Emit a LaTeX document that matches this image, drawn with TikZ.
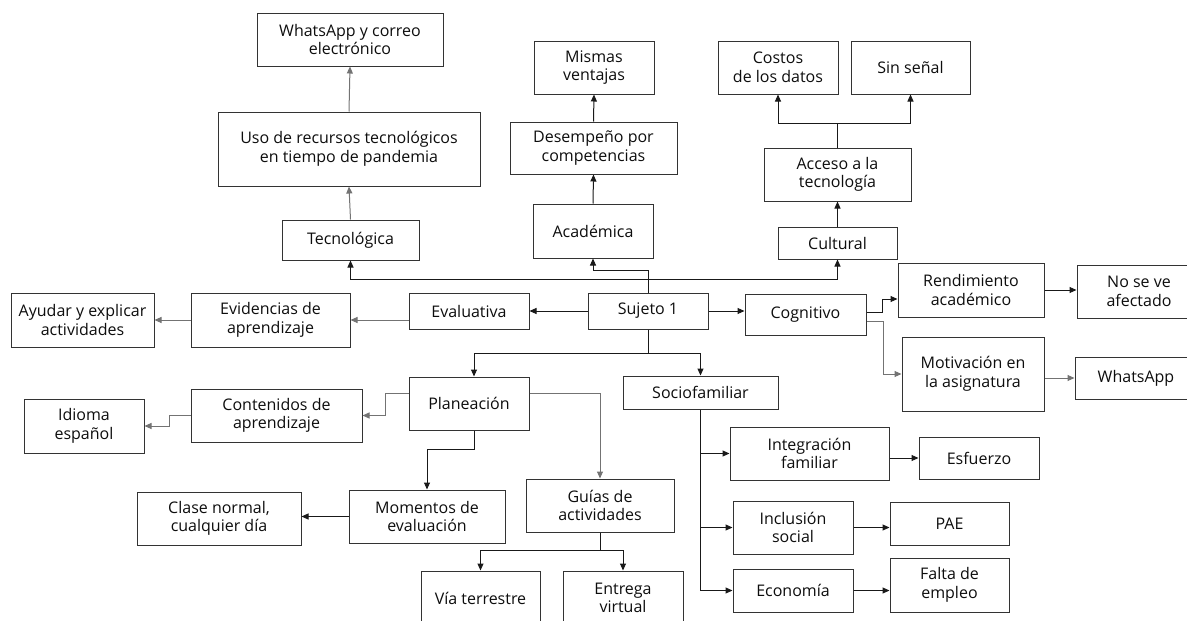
\documentclass[tikz,border=0pt]{standalone}
\usepackage{fontspec}
\setmainfont{Open Sans}
\usepackage{tikz}
\usepackage{xcolor}
\usetikzlibrary{arrows.meta}

\begin{document}
\begin{tikzpicture}[x=1pt,y=-1pt,>={Triangle[length=7pt,width=6pt]}]
	\tikzstyle{box}=[rectangle,draw=black!80,line width=1pt,align=center,inner sep=0pt,text=black!95,font=\fontsize{16}{18.5}\selectfont]
	\tikzstyle{edge}=[draw=black!90,line width=1pt]
	\tikzstyle{gedge}=[draw=black!55,line width=1pt]

	\useasboundingbox (0,0) rectangle (1187,621);

	 \node [box,minimum width=186,minimum height=53] (wa) at (350,39.5) {WhatsApp y correo\\electrónico};
	 \node [box,minimum width=262,minimum height=74] (uso) at (349,149) {Uso de recursos tecnológicos\\en tiempo de pandemia};
	 \node [box,minimum width=137,minimum height=40] (tec) at (350.5,240) {Tecnológica};
	 \node [box,minimum width=120,minimum height=53] (mis) at (594,67.5) {Mismas\\ventajas};
	 \node [box,minimum width=167,minimum height=52] (des) at (593.5,148) {Desempeño por\\competencias};
	 \node [box,minimum width=120,minimum height=54] (aca) at (593,231) {Académica};
	 \node [box,minimum width=120,minimum height=53] (cos) at (778,67.5) {Costos\\de los datos};
	 \node [box,minimum width=119,minimum height=53] (sin) at (910.5,67.5) {Sin señal};
	 \node [box,minimum width=147,minimum height=53] (acc) at (837.5,174.5) {Acceso a la\\tecnología};
	 \node [box,minimum width=119,minimum height=32] (cul) at (837.5,243) {Cultural};

	 \node [box,minimum width=143,minimum height=54] (ayu) at (82.5,320) {Ayudar y explicar\\actividades};
	 \node [box,minimum width=159,minimum height=54] (evi) at (270.5,320) {Evidencias de\\aprendizaje};
	 \node [box,minimum width=120,minimum height=36] (eva) at (469,311) {Evaluativa};
	 \node [box,minimum width=120,minimum height=36] (suj) at (648,311) {Sujeto 1};
	 \node [box,minimum width=121,minimum height=41] (cog) at (805.5,314.5) {Cognitivo};
	 \node [box,minimum width=146,minimum height=54] (ren) at (971,290) {Rendimiento\\académico};
	 \node [box,minimum width=124,minimum height=53] (nos) at (1139,291.5) {No se ve\\afectado};
	 \node [box,minimum width=142,minimum height=74] (mot) at (973,374) {Motivación en\\la asignatura};
	 \node [box,minimum width=122,minimum height=42] (wap) at (1136,378) {WhatsApp};

	 \node [box,minimum width=120,minimum height=53] (pla) at (469,403.5) {Planeación};
	 \node [box,minimum width=155,minimum height=33] (soc) at (700.5,392.5) {Sociofamiliar};
	 \node [box,minimum width=171,minimum height=53] (con) at (276.5,415.5) {Contenidos de\\aprendizaje};
	 \node [box,minimum width=120,minimum height=54] (idi) at (84,426) {Idioma\\español};
	 \node [box,minimum width=156,minimum height=53] (mom) at (427,516.5) {Momentos de\\evaluación};
	 \node [box,minimum width=164,minimum height=53] (cla) at (219,518.5) {Clase normal,\\cualquier día};
	 \node [box,minimum width=148,minimum height=53] (gui) at (600,505.5) {Guías de\\actividades};
	 \node [box,minimum width=119,minimum height=54] (via) at (480.5,598) {Vía terrestre};
	 \node [box,minimum width=120,minimum height=54] (ent) at (623,598) {Entrega\\virtual};
	 \node [box,minimum width=159,minimum height=53] (int) at (809.5,453.5) {Integración\\familiar};
	 \node [box,minimum width=120,minimum height=42] (esf) at (979,458) {Esfuerzo};
	 \node [box,minimum width=120,minimum height=53] (inc) at (793,527.5) {Inclusión\\social};
	 \node [box,minimum width=119,minimum height=43] (pae) at (949.5,523.5) {PAE};
	 \node [box,minimum width=120,minimum height=43] (eco) at (793,590.5) {Economía};
	 \node [box,minimum width=119,minimum height=54] (fal) at (949.5,585) {Falta de\\empleo};

	 \coordinate (top1) at (648,279);
	 \coordinate (bot1) at (648,353);
	 \coordinate (bot2) at (600,550);

	 \path[edge] (suj.north) -- (648,270);
	 \path[edge,->] (648,270) -| (aca.south);
	 \path[edge,->] (top1) -| (tec.south);
	 \path[edge,->] (top1) -| (cul.south);
	 \path[gedge,->] (tec.north) -- (uso.south);
	 \path[gedge,->] (uso.north) -- (wa.south);
	 \path[edge,->] (aca.north) -- (des.south);
	 \path[edge,->] (des.north) -- (mis.south);
	 \path[edge,->] (cul.north) -- (acc.south);
	 \path[edge] (acc.north) -- (837.5,123);
	 \path[edge,->] (837.5,123) -| (cos.south);
	 \path[edge,->] (837.5,123) -| (sin.south);

	 \path[edge,->] (suj.west) -- (eva.east |- suj.west);
	 \path[gedge,->] (eva.west |- evi.east) -- (evi.east);
	 \path[gedge,->] (evi.west) -- (ayu.east);
	 \path[edge,->] (suj.east) -- (cog.west |- suj.east);
	 \path[edge,->] (cog.east |- 0,312) -- (882,312) |- (ren.west |- 0,299);
	 \path[gedge,->] (cog.east |- 0,321) -- (883,321) |- (mot.west);
	 \path[edge,->] (ren.east) -- (nos.west |- ren.east);
	 \path[gedge,->] (mot.east |- wap.west) -- (wap.west);

	 \path[edge] (suj.south) -- (bot1);
	 \path[edge,->] (bot1) -| ([xshift=5pt]pla.north);
	 \path[edge,->] (bot1) -| (soc.north);
	 \path[edge,->] ([xshift=5pt]pla.south) -- (474,449) -| (mom.north);
	 \path[gedge,->] (pla.west |- 0,393) -- (385,393) |- (con.east);
	 \path[gedge,->] (con.west) -- (169,415.5) |- (idi.east);
	 \path[gedge,->] (pla.east |- 0,393) -| (gui.north);
	 \path[edge,->] (mom.west) -- (cla.east |- mom.west);
	 \path[edge] (gui.south) -- (bot2);
	 \path[edge,->] (bot2) -| (via.north);
	 \path[edge,->] (bot2) -| (ent.north);

	 \path[edge,->] (soc.south) |- (eco.west);
	 \path[edge,->] (soc.south |- int.west) -- (int.west);
	 \path[edge,->] (soc.south |- inc.west) -- (inc.west);
	 \path[edge,->] (int.east |- esf.west) -- (esf.west);
	 \path[edge,->] (inc.east) -- (pae.west |- inc.east);
	 \path[edge,->] (eco.east) -- (fal.west |- eco.east);

  \end{tikzpicture}
\end{document}
